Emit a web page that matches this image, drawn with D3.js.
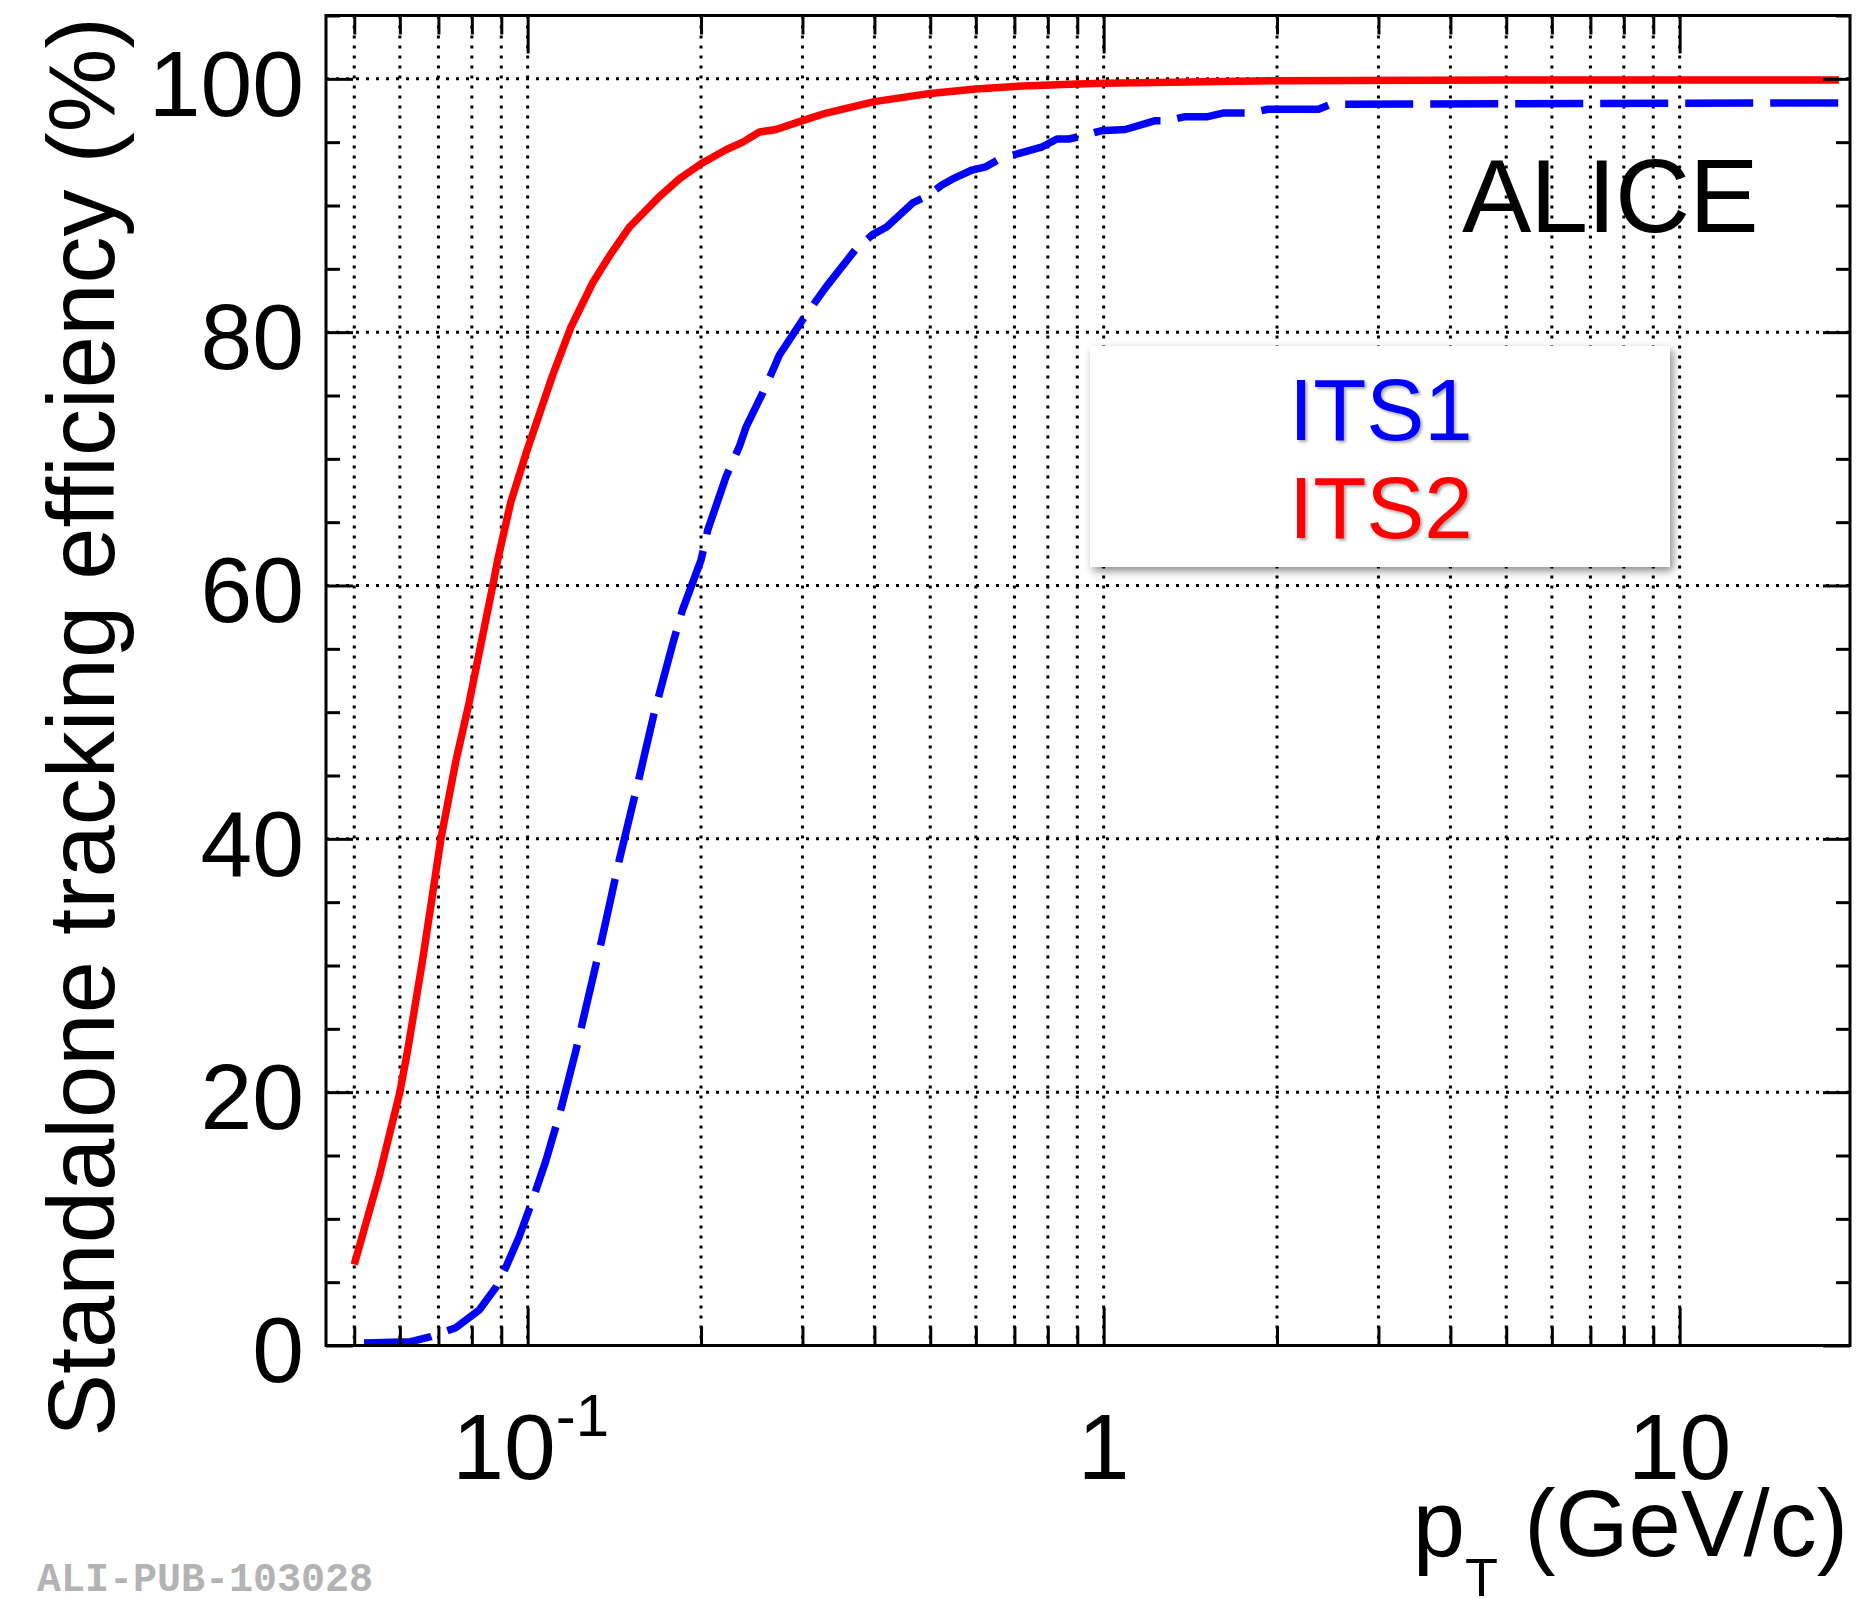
<!DOCTYPE html>
<html>
<head>
<meta charset="utf-8">
<script src="https://cdn.jsdelivr.net/npm/d3@7"></script>
<style>
  html, body { margin: 0; padding: 0; background: #fff; }
  svg { display: block; }
  .lbl { font-family: "Liberation Sans", Arial, Helvetica, sans-serif; fill: #000; }
  .tick line { stroke: #000; stroke-width: 3; }
  .grid line { stroke: #000; stroke-width: 3; stroke-dasharray: 3 7; }
</style>
</head>
<body>
<div id="chart"></div>
<script>
// ITS standalone tracking efficiency vs pT
const its2 = [
  [0.050, 6.4], [0.0552, 13.3], [0.0600, 20.0], [0.0619, 23.3], [0.0657, 30.4],
  [0.0707, 40.0], [0.0751, 46.2], [0.0791, 50.7], [0.0835, 56.0], [0.0870, 60.0],
  [0.0887, 62.0], [0.0935, 66.6], [0.0993, 70.4], [0.1105, 76.6], [0.1189, 80.4],
  [0.1297, 83.9], [0.1386, 86.0], [0.1502, 88.3], [0.1693, 90.7], [0.1834, 92.1],
  [0.200, 93.3], [0.221, 94.4], [0.2363, 95.0], [0.2526, 95.8], [0.270, 96.0],
  [0.300, 96.7], [0.330, 97.3], [0.400, 98.2], [0.500, 98.85], [0.600, 99.2],
  [0.700, 99.4], [0.900, 99.6], [1.0, 99.65], [2.0, 99.85], [5.0, 99.9], [18.9, 99.9]
];
const its1 = [
  [0.052, 0.2], [0.0627, 0.3], [0.0679, 0.7], [0.075, 1.4], [0.0824, 2.8],
  [0.0881, 4.6], [0.0917, 6.2], [0.0967, 8.6], [0.102, 11.5], [0.1076, 14.6],
  [0.1143, 18.7], [0.1213, 23.3], [0.1349, 32.3], [0.1442, 38.3], [0.1563, 44.9],
  [0.166, 50.0], [0.1786, 55.4], [0.1858, 58.1], [0.200, 62.0], [0.2055, 64.4],
  [0.2211, 68.6], [0.2332, 71.0], [0.2394, 72.5], [0.2559, 75.2], [0.2665, 77.0],
  [0.2736, 78.2], [0.3004, 81.0], [0.330, 83.6], [0.372, 86.6], [0.397, 87.7],
  [0.420, 88.3], [0.466, 90.2], [0.492, 90.7], [0.523, 91.6], [0.547, 92.1],
  [0.591, 92.8], [0.624, 93.05], [0.662, 93.7], [0.711, 94.1], [0.780, 94.6],
  [0.830, 95.25], [0.870, 95.25], [0.920, 95.5], [0.990, 95.9], [1.09, 96.0],
  [1.23, 96.7], [1.29, 96.7], [1.38, 97.0], [1.51, 97.0], [1.61, 97.3],
  [1.80, 97.3], [1.93, 97.6], [2.36, 97.6], [2.48, 98.0], [18.9, 98.1]
];

const xMajorTicks = [0.1, 1, 10];
const xMajorLabels = [["10", "-1"], ["1", ""], ["10", ""]];
const xMinorTicks = [0.05, 0.06, 0.07, 0.08, 0.09, 0.2, 0.3, 0.4, 0.5, 0.6, 0.7, 0.8, 0.9,
                     2, 3, 4, 5, 6, 7, 8, 9];
const yMajorTicks = [0, 20, 40, 60, 80, 100];
const yMinorTicks = [5, 10, 15, 25, 30, 35, 45, 50, 55, 65, 70, 75, 85, 90, 95, 105];

const W = 1860, H = 1599;
const plotLeft = 326, plotRight = 1850, plotTop = 15.5, plotBottom = 1345.5;

const svg = d3.select("#chart").append("svg")
  .attr("width", W).attr("height", H)
  .attr("viewBox", `0 0 ${W} ${H}`);

const defs = svg.append("defs");
defs.append("filter").attr("id", "boxShadow")
  .attr("x", "-10%").attr("y", "-10%").attr("width", "125%").attr("height", "130%")
  .append("feDropShadow")
  .attr("dx", 3).attr("dy", 4).attr("stdDeviation", 4)
  .attr("flood-color", "#000").attr("flood-opacity", 0.45);
defs.append("filter").attr("id", "textShadow")
  .attr("x", "-10%").attr("y", "-10%").attr("width", "130%").attr("height", "130%")
  .append("feDropShadow")
  .attr("dx", 2).attr("dy", 2).attr("stdDeviation", 1.8)
  .attr("flood-color", "#000").attr("flood-opacity", 0.35);

const x = d3.scaleLog().domain([0.04466, 19.76]).range([plotLeft, plotRight]);
const y = d3.scaleLinear().domain([0, 105]).range([plotBottom, plotTop]);

// dotted grid
const grid = svg.append("g").attr("class", "grid");
grid.selectAll("line.gx")
  .data(xMajorTicks.concat(xMinorTicks))
  .join("line").attr("class", "gx")
  .attr("x1", d => x(d)).attr("x2", d => x(d))
  .attr("y1", plotTop).attr("y2", plotBottom);
grid.selectAll("line.gy")
  .data(yMajorTicks.filter(d => d > 0))
  .join("line").attr("class", "gy")
  .attr("x1", plotLeft).attr("x2", plotRight)
  .attr("y1", d => y(d)).attr("y2", d => y(d));

// curves
const line = d3.line().x(d => x(d[0])).y(d => y(d[1]));
svg.append("path").datum(its1)
  .attr("d", line).attr("fill", "none")
  .attr("stroke", "#0000ff").attr("stroke-width", 7.5)
  .attr("stroke-dasharray", "68 17").attr("stroke-linejoin", "round");
svg.append("path").datum(its2)
  .attr("d", line).attr("fill", "none")
  .attr("stroke", "#ff0000").attr("stroke-width", 7.5).attr("stroke-linejoin", "round");

// legend
const legend = svg.append("g");
legend.append("rect")
  .attr("x", 1090).attr("y", 346).attr("width", 580).attr("height", 221)
  .attr("fill", "#fff").attr("filter", "url(#boxShadow)");
legend.append("text").attr("class", "lbl")
  .attr("x", 1289).attr("y", 440).attr("font-size", 87)
  .style("fill", "#0000ff").attr("filter", "url(#textShadow)").text("ITS1");
legend.append("text").attr("class", "lbl")
  .attr("x", 1289).attr("y", 538).attr("font-size", 87)
  .style("fill", "#ff0000").attr("filter", "url(#textShadow)").text("ITS2");

// axes: ticks drawn inside the frame on all four sides
function addAxis(axis, tx, ty) {
  const g = svg.append("g").attr("transform", `translate(${tx},${ty})`).call(axis);
  g.select(".domain").remove();
  g.selectAll(".tick text").remove();
  return g;
}
addAxis(d3.axisBottom(x).tickValues(xMajorTicks).tickSize(-38), 0, plotBottom);
addAxis(d3.axisBottom(x).tickValues(xMinorTicks).tickSize(-19), 0, plotBottom);
addAxis(d3.axisTop(x).tickValues(xMajorTicks).tickSize(-38), 0, plotTop);
addAxis(d3.axisTop(x).tickValues(xMinorTicks).tickSize(-19), 0, plotTop);
addAxis(d3.axisRight(y).tickValues(yMajorTicks).tickSize(-27), plotRight, 0);
addAxis(d3.axisRight(y).tickValues(yMinorTicks).tickSize(-14), plotRight, 0);
addAxis(d3.axisLeft(y).tickValues(yMinorTicks).tickSize(-14), plotLeft, 0);

const yAxis = svg.append("g").attr("transform", `translate(${plotLeft},0)`)
  .call(d3.axisLeft(y).tickValues(yMajorTicks).tickSize(-27).tickPadding(22));
yAxis.select(".domain").remove();
yAxis.selectAll(".tick text")
  .attr("class", "lbl").attr("font-size", 93).attr("dy", "0.39em")
  .style("font-family", "'Liberation Sans', Arial, Helvetica, sans-serif");

// frame
svg.append("rect")
  .attr("x", plotLeft).attr("y", plotTop)
  .attr("width", plotRight - plotLeft).attr("height", plotBottom - plotTop)
  .attr("fill", "none").attr("stroke", "#000").attr("stroke-width", 3);

// x tick labels with exponent
const xl = svg.append("g");
xMajorTicks.forEach((v, i) => {
  const t = xl.append("text").attr("class", "lbl")
    .attr("x", x(v) + (xMajorLabels[i][1] ? 3 : 0)).attr("y", plotBottom + 133)
    .attr("text-anchor", "middle").attr("font-size", 93);
  t.append("tspan").text(xMajorLabels[i][0]);
  if (xMajorLabels[i][1]) {
    t.append("tspan").attr("font-size", 60).attr("dy", -43).text(xMajorLabels[i][1]);
  }
});

// axis titles
const xt = svg.append("text").attr("class", "lbl")
  .attr("x", 1848).attr("y", 1556).attr("text-anchor", "end").attr("font-size", 94);
xt.append("tspan").text("p");
xt.append("tspan").attr("font-size", 54).attr("dy", 40).text("T");
xt.append("tspan").attr("dy", -40).text(" (GeV/c)");

svg.append("text").attr("class", "lbl")
  .attr("transform", "translate(114,727) rotate(-90)")
  .attr("text-anchor", "middle").attr("font-size", 94)
  .text("Standalone tracking efficiency (%)");

svg.append("text").attr("class", "lbl")
  .attr("x", 1462).attr("y", 232).attr("font-size", 104)
  .attr("letter-spacing", -1).text("ALICE");

svg.append("text")
  .attr("x", 37).attr("y", 1591)
  .attr("font-family", "'Liberation Mono', 'Courier New', monospace")
  .attr("font-weight", "bold").attr("font-size", 40)
  .attr("fill", "#b3b3b3").text("ALI-PUB-103028");
</script>
</body>
</html>
